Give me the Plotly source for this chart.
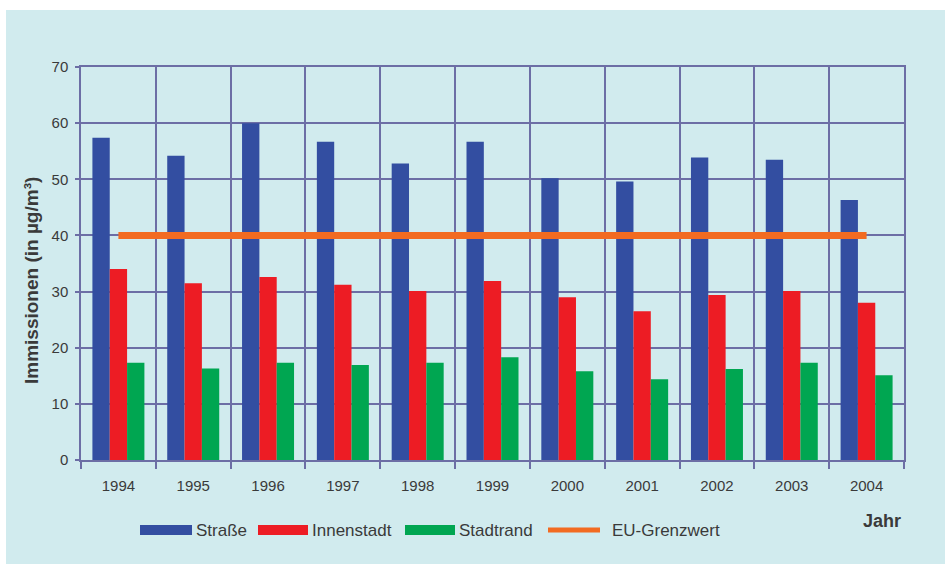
import plotly.graph_objects as go

# Annual mean immissions (µg/m³) per measuring location
years = ["1994", "1995", "1996", "1997", "1998", "1999", "2000", "2001", "2002", "2003", "2004"]
strasse = [57.4, 54.2, 60.0, 56.7, 52.8, 56.7, 50.2, 49.6, 53.9, 53.5, 46.3]
innenstadt = [34.0, 31.5, 32.6, 31.2, 30.1, 31.9, 29.0, 26.5, 29.4, 30.1, 28.0]
stadtrand = [17.3, 16.3, 17.3, 16.9, 17.3, 18.3, 15.8, 14.4, 16.2, 17.3, 15.1]
eu_grenzwert = [40, 40, 40, 40, 40, 40, 40, 40, 40, 40, 40]

y_ticks = [0, 10, 20, 30, 40, 50, 60, 70]

BLUE = "#334ea1"
RED = "#ed1c24"
GREEN = "#00a651"
ORANGE = "#f26b21"
GRID = "#6c6ea5"
BG = "#d1ebee"
TEXT = "#3a3a3a"

W, H = 945, 564
L, R, T, B = 81, 41, 67, 104
PW, PH = W - L - R, H - T - B


def px(x):
    return (x - L) / PW


def py(y):
    return (H - B - y) / PH


fig = go.Figure()
for name, vals, col in [("Straße", strasse, BLUE),
                        ("Innenstadt", innenstadt, RED),
                        ("Stadtrand", stadtrand, GREEN)]:
    fig.add_trace(go.Bar(x=years, y=vals, name=name, marker_color=col,
                         marker_line_width=0, showlegend=False))

fig.add_trace(go.Scatter(x=years, y=eu_grenzwert, name="EU-Grenzwert", mode="lines",
                         line=dict(color=ORANGE, width=7), showlegend=False))

shapes = [dict(type="rect", xref="paper", yref="paper", x0=px(6), x1=px(W + 5),
               y0=py(10), y1=py(H + 5), fillcolor=BG, line_width=0, layer="below")]
annotations = []

# Hand-placed legend row below the axis
legend_items = [("Straße", BLUE, "rect", 140, 192, 194),
                ("Innenstadt", RED, "rect", 258, 308, 310),
                ("Stadtrand", GREEN, "rect", 405, 455, 457),
                ("EU-Grenzwert", ORANGE, "line", 548, 600, 610)]
ly = 530
for label, col, kind, x0, x1, tx in legend_items:
    if kind == "rect":
        shapes.append(dict(type="rect", xref="paper", yref="paper", x0=px(x0), x1=px(x1),
                           y0=py(ly + 5), y1=py(ly - 5), fillcolor=col, line_width=0))
    else:
        shapes.append(dict(type="line", xref="paper", yref="paper", x0=px(x0), x1=px(x1),
                           y0=py(ly), y1=py(ly), line=dict(color=col, width=5)))
    annotations.append(dict(text=label, xref="paper", yref="paper", x=px(tx), y=py(ly),
                            xanchor="left", yanchor="middle", showarrow=False,
                            font=dict(size=17, color=TEXT)))

annotations.append(dict(text="<b>Jahr</b>", xref="paper", yref="paper", x=px(861), y=py(521),
                        xanchor="left", yanchor="middle", showarrow=False,
                        font=dict(size=18, color=TEXT)))

# Vertical axis title
annotations.append(dict(text="<b>Immissionen (in µg/m³)</b>", xref="paper", yref="paper",
                        x=px(31), y=py(281), xanchor="center", yanchor="middle",
                        textangle=-90, showarrow=False,
                        font=dict(size=19, color=TEXT)))

fig.update_layout(
    width=W, height=H,
    margin=dict(l=L, r=R, t=T, b=B, pad=0),
    paper_bgcolor="white",
    plot_bgcolor=BG,
    barmode="group",
    bargap=0.305,
    bargroupgap=0,
    font=dict(family="Liberation Sans, Arial, sans-serif", color=TEXT),
    shapes=shapes,
    annotations=annotations,
    xaxis=dict(type="category", tickson="boundaries", ticks="outside", ticklen=7,
               tickcolor=GRID, tickwidth=1.5, showgrid=True, gridcolor=GRID, gridwidth=1.5,
               showline=True, linecolor=GRID, linewidth=1.5, mirror=True,
               tickfont=dict(size=15, color=TEXT), ticklabelstandoff=11),
    yaxis=dict(range=[0, 70], tickvals=y_ticks, ticks="outside", ticklen=4,
               tickcolor=GRID, tickwidth=1.5, showgrid=True, gridcolor=GRID, gridwidth=1.5,
               showline=True, linecolor=GRID, linewidth=1.5, mirror=True, zeroline=False,
               tickfont=dict(size=15, color=TEXT), ticklabelstandoff=4),
)

fig.write_html("out.html")
